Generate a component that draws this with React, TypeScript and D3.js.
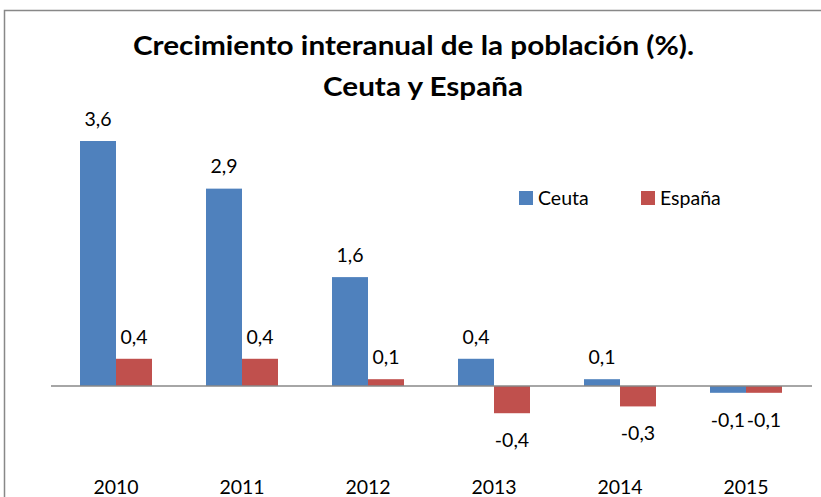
import * as d3 from 'd3';
import { useEffect, useRef } from 'react';

const years = ['2010', '2011', '2012', '2013', '2014', '2015'];
const ceuta = [3.6, 2.9, 1.6, 0.4, 0.1, -0.1];
const espana = [0.4, 0.4, 0.1, -0.4, -0.3, -0.1];
const seriesNames = ['Ceuta', 'España'];
const colors = ['#4F81BD', '#C0504D'];

export default function App() {
  const svgRef = useRef<SVGSVGElement>(null);

  useEffect(() => {
    drawChart(svgRef.current!);
  }, []);

  return (
    <svg ref={svgRef} width={821} height={497}
      style={{ position: 'absolute', left: 0, top: 0 }}></svg>
  );
}

function drawChart(el: SVGSVGElement) {
  const w = 821;
  const h = 497;
  const font = 'Lato, "Open Sans", sans-serif';
  const fs = 19.5;
  const svg = d3.select(el);
  svg.selectAll('*').remove();

  svg.append('rect').attr('width', w).attr('height', h).attr('fill', '#fff');

  // frame
  svg.append('path')
    .attr('d', `M4.5,${h} V10.5 H${w}`)
    .attr('fill', 'none')
    .attr('stroke', '#888')
    .attr('stroke-width', 1.5);

  const title = svg.append('text')
    .attr('font-family', font)
    .attr('font-weight', 'bold')
    .attr('font-size', 27)
    .attr('fill', '#000');
  title.append('tspan').attr('x', 133).attr('y', 55)
    .attr('textLength', 561).attr('lengthAdjust', 'spacingAndGlyphs')
    .text('Crecimiento interanual de la población (%).');
  title.append('tspan').attr('x', 323).attr('y', 96)
    .attr('textLength', 200).attr('lengthAdjust', 'spacingAndGlyphs')
    .text('Ceuta y España');

  const x0 = d3.scaleBand().domain(years).range([53, 809]).paddingInner(54 / 126).paddingOuter(27 / 126);
  const x1 = d3.scaleBand().domain(seriesNames).range([0, x0.bandwidth()]);
  const y = d3.scaleLinear().domain([0, 3.6]).range([386, 141]);

  const data = [ceuta, espana];
  const fmt = (v: number) => v.toFixed(1).replace('.', ',');

  seriesNames.forEach((name, si) => {
    const g = svg.append('g');
    g.selectAll('rect')
      .data(years)
      .enter()
      .append('rect')
      .attr('x', d => x0(d)! + x1(name)!)
      .attr('width', x1.bandwidth())
      .attr('y', (d, i) => Math.min(y(data[si][i]), y(0)))
      .attr('height', (d, i) => Math.abs(y(data[si][i]) - y(0)))
      .attr('fill', colors[si]);

    g.selectAll('text')
      .data(years)
      .enter()
      .append('text')
      .attr('x', d => x0(d)! + x1(name)! + x1.bandwidth() / 2)
      .attr('y', (d, i) => data[si][i] >= 0 ? y(data[si][i]) - 22 : y(data[si][i]) + 27)
      .attr('dy', '0.35em')
      .attr('text-anchor', 'middle')
      .attr('font-family', font)
      .attr('font-size', fs)
      .text((d, i) => fmt(data[si][i]));
  });

  // zero axis
  svg.append('line')
    .attr('x1', 51).attr('x2', 812)
    .attr('y1', y(0)).attr('y2', y(0))
    .attr('stroke', '#888')
    .attr('stroke-width', 1.5);

  svg.append('g')
    .selectAll('text')
    .data(years)
    .enter()
    .append('text')
    .attr('x', d => x0(d)! + x0.bandwidth() / 2)
    .attr('y', 487)
    .attr('dy', '0.35em')
    .attr('text-anchor', 'middle')
    .attr('font-family', font)
    .attr('font-size', fs)
    .text(d => d);

  // legend
  const legX = [519, 641];
  seriesNames.forEach((name, i) => {
    svg.append('rect')
      .attr('x', legX[i]).attr('y', 191)
      .attr('width', 14).attr('height', 14)
      .attr('fill', colors[i]);
    svg.append('text')
      .attr('x', legX[i] + 19).attr('y', 198)
      .attr('dy', '0.35em')
      .attr('font-family', font)
      .attr('font-size', fs)
      .text(name);
  });
}
